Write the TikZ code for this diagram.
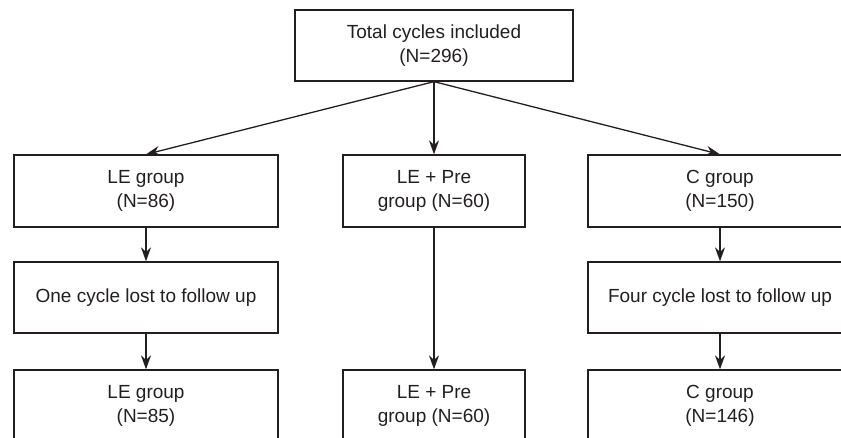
\documentclass[tikz,border=0pt]{standalone}
\usepackage{fontspec}
\setmainfont{Liberation Sans}
\usetikzlibrary{positioning,arrows.meta}
\definecolor{flowline}{RGB}{35,31,32}

\begin{document}
\begin{tikzpicture}[x=0.5pt,y=-0.5pt,
    box/.style={rectangle,draw=flowline,line width=0.65pt,inner sep=0pt,
      minimum height=36pt,align=center,text=flowline,
      font=\fontsize{9.5}{12}\selectfont}]
  \useasboundingbox (0,0) rectangle (841,438);
  \clip (0,0) rectangle (841,438);
  \begin{scope}[>={Stealth[length=7pt,width=5pt]}]
    \node (total) at (434,45.5) [box,minimum width=139pt,minimum height=35.5pt]{Total cycles included\\(N=296)};

    \node (le) at (146,191) [box,minimum width=132pt]{LE group\\(N=86)};
    \node (lepre) at (434,191) [box,minimum width=91pt]{LE + Pre\\group (N=60)};
    \node (cg) at (720,191) [box,minimum width=132pt]{C group\\(N=150)};

    \node (lostle) at (146,297.5) [box,minimum width=132pt,minimum height=35.5pt]{One cycle lost to follow up};
    \node (lostc) at (720,297.5) [box,minimum width=132pt,minimum height=35.5pt]{Four cycle lost to follow up};

    \node (leend) at (146,406) [box,minimum width=132pt]{LE group\\(N=85)};
    \node (lepreend) at (434,406) [box,minimum width=91pt]{LE + Pre\\group (N=60)};
    \node (cgend) at (720,406) [box,minimum width=132pt]{C group\\(N=146)};

    \draw[->,flowline,line width=0.65pt] (total.south) -- (le.north);
    \draw[->,flowline,line width=0.65pt] (total.south) -- (lepre.north);
    \draw[->,flowline,line width=0.65pt] (total.south) -- (cg.north);

    \draw[->,flowline,line width=0.65pt] (le) -- (lostle);
    \draw[->,flowline,line width=0.65pt] (lostle) -- (leend);
    \draw[->,flowline,line width=0.65pt] (lepre) -- (lepreend);
    \draw[->,flowline,line width=0.65pt] (cg) -- (lostc);
    \draw[->,flowline,line width=0.65pt] (lostc) -- (cgend);
  \end{scope}
\end{tikzpicture}
\end{document}
